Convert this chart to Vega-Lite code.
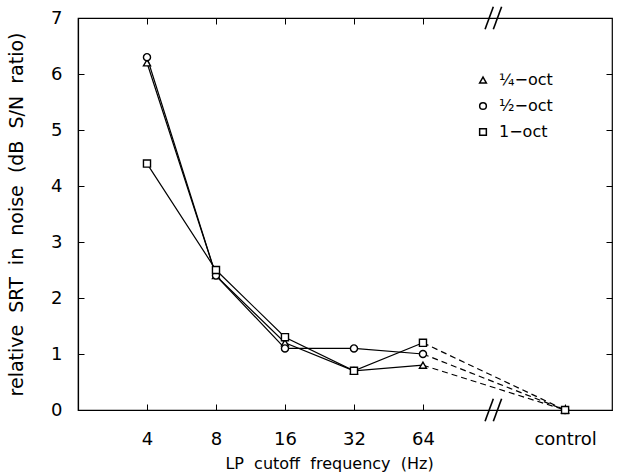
{
  "$schema": "https://vega.github.io/schema/vega-lite/v6.json",
  "width": 534,
  "height": 392,
  "autosize": {"type": "none"},
  "padding": {"left": 78, "top": 18, "right": 17, "bottom": 64},
  "background": "white",
  "config": {
    "font": "DejaVu Sans",
    "view": {"stroke": "black", "strokeWidth": 1.2},
    "axis": {
      "domainColor": "black", "domainWidth": 1.2, "tickColor": "black", "labelColor": "black", "titleColor": "black",
      "grid": false, "labelFont": "DejaVu Sans", "titleFont": "DejaVu Sans",
      "labelFontSize": 18, "titleFontSize": 16, "titleFontWeight": "normal"
    }
  },
  "datasets": {
    "srt": [
      {"series": "¼−oct", "frequency": "4", "octave": 2, "srt": 6.2},
      {"series": "¼−oct", "frequency": "8", "octave": 3, "srt": 2.4},
      {"series": "¼−oct", "frequency": "16", "octave": 4, "srt": 1.2},
      {"series": "¼−oct", "frequency": "32", "octave": 5, "srt": 0.7},
      {"series": "¼−oct", "frequency": "64", "octave": 6, "srt": 0.8},
      {"series": "¼−oct", "frequency": "control", "octave": 8.06, "srt": 0},
      {"series": "½−oct", "frequency": "4", "octave": 2, "srt": 6.3},
      {"series": "½−oct", "frequency": "8", "octave": 3, "srt": 2.4},
      {"series": "½−oct", "frequency": "16", "octave": 4, "srt": 1.1},
      {"series": "½−oct", "frequency": "32", "octave": 5, "srt": 1.1},
      {"series": "½−oct", "frequency": "64", "octave": 6, "srt": 1.0},
      {"series": "½−oct", "frequency": "control", "octave": 8.06, "srt": 0},
      {"series": "1−oct", "frequency": "4", "octave": 2, "srt": 4.4},
      {"series": "1−oct", "frequency": "8", "octave": 3, "srt": 2.5},
      {"series": "1−oct", "frequency": "16", "octave": 4, "srt": 1.3},
      {"series": "1−oct", "frequency": "32", "octave": 5, "srt": 0.7},
      {"series": "1−oct", "frequency": "64", "octave": 6, "srt": 1.2},
      {"series": "1−oct", "frequency": "control", "octave": 8.06, "srt": 0}
    ],
    "breaks": [
      {"x": 6.9, "x2": 7.02, "y": -0.2, "y2": 0.2},
      {"x": 7.02, "x2": 7.14, "y": -0.2, "y2": 0.2},
      {"x": 6.9, "x2": 7.02, "y": 6.8, "y2": 7.2},
      {"x": 7.02, "x2": 7.14, "y": 6.8, "y2": 7.2}
    ]
  },
  "resolve": {"axis": {"x": "independent", "y": "independent"}},
  "layer": [
    {
      "data": {"name": "srt"},
      "transform": [{"filter": "datum.octave <= 6"}],
      "mark": {"type": "line", "color": "black", "strokeWidth": 1.2},
      "encoding": {
        "x": {
          "field": "octave", "type": "quantitative",
          "scale": {"domain": [1, 8.74], "nice": false, "zero": false},
          "axis": {
            "values": [2, 3, 4, 5, 6, 8.06],
            "labelExpr": "datum.value > 7 ? 'control' : format(pow(2, datum.value), 'd')",
            "tickSize": -6, "labelPadding": 26, "title": "LP\u00a0\u00a0cutoff\u00a0\u00a0frequency\u00a0\u00a0(Hz)", "titlePadding": 7, "titleX": 251
          }
        },
        "y": {
          "field": "srt", "type": "quantitative",
          "scale": {"domain": [0, 7], "nice": false},
          "axis": {
            "values": [0, 1, 2, 3, 4, 5, 6, 7], "tickSize": -6, "labelPadding": 22,
            "title": "relative\u00a0\u00a0SRT\u00a0\u00a0in\u00a0\u00a0noise\u00a0\u00a0(dB\u00a0\u00a0S/N\u00a0\u00a0ratio)",
            "titleFontSize": 19, "titleX": -52
          }
        },
        "detail": {"field": "series"}
      }
    },
    {
      "data": {"name": "srt"},
      "transform": [{"filter": "datum.octave >= 6"}],
      "mark": {"type": "line", "color": "black", "strokeWidth": 1.2, "strokeDash": [6, 4]},
      "encoding": {
        "x": {"field": "octave", "type": "quantitative", "scale": {"domain": [1, 8.74], "nice": false, "zero": false}, "axis": null},
        "y": {"field": "srt", "type": "quantitative", "scale": {"domain": [0, 7], "nice": false}, "axis": null},
        "detail": {"field": "series"}
      }
    },
    {
      "data": {"name": "srt"},
      "mark": {"type": "point", "filled": false, "fill": "white", "fillOpacity": 1, "stroke": "black", "color": "black", "strokeWidth": 1.4, "size": 50, "opacity": 1},
      "encoding": {
        "x": {"field": "octave", "type": "quantitative", "scale": {"domain": [1, 8.74], "nice": false, "zero": false}, "axis": null},
        "y": {"field": "srt", "type": "quantitative", "scale": {"domain": [0, 7], "nice": false}, "axis": null},
        "shape": {
          "field": "series", "type": "nominal",
          "scale": {"domain": ["¼−oct", "½−oct", "1−oct"], "range": ["triangle-up", "circle", "square"]},
          "legend": {
            "orient": "none", "legendX": 397, "legendY": 54, "title": null,
            "labelFontSize": 16, "labelFont": "DejaVu Sans", "labelColor": "black",
            "symbolSize": 45, "rowPadding": 10, "labelOffset": 8,
            "encode": {
              "symbols": {
                "update": {
                  "stroke": {"value": "black"},
                  "fill": {"value": "white"},
                  "strokeWidth": {"value": 1.4},
                  "opacity": {"value": 1},
                  "fillOpacity": {"value": 1},
                  "strokeOpacity": {"value": 1}
                }
              }
            }
          }
        }
      }
    },
    {
      "data": {"name": "breaks"},
      "mark": {"type": "rule", "color": "black", "strokeWidth": 1.6, "clip": false},
      "encoding": {
        "x": {"field": "x", "type": "quantitative", "scale": {"domain": [1, 8.74], "nice": false, "zero": false},
          "axis": {"orient": "top", "values": [2, 3, 4, 5, 6], "labels": false, "tickSize": -6, "title": null, "domain": false}},
        "x2": {"field": "x2"},
        "y": {"field": "y", "type": "quantitative", "scale": {"domain": [0, 7], "nice": false},
          "axis": {"orient": "right", "values": [0, 1, 2, 3, 4, 5, 6, 7], "labels": false, "tickSize": -6, "title": null, "domain": false}},
        "y2": {"field": "y2"}
      }
    }
  ]
}
